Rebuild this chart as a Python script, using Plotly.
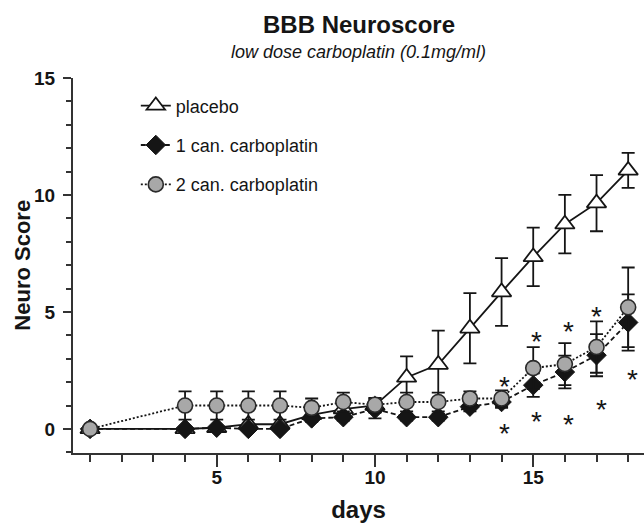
import plotly.graph_objects as go

# ---- data ----
days = [1, 4, 5, 6, 7, 8, 9, 10, 11, 12, 13, 14, 15, 16, 17, 18]

placebo = [0, 0, 0.05, 0.2, 0.2, 0.6, 0.85, 1.0, 2.2, 2.75, 4.3, 5.85, 7.35, 8.75, 9.65, 11.05]
placebo_err = [0, 0, 0, 0, 0, 0.2, 0.2, 0.3, 0.9, 1.45, 1.5, 1.45, 1.25, 1.25, 1.2, 0.75]

can1 = [0, 0, 0.05, 0, 0, 0.45, 0.5, 0.85, 0.5, 0.5, 0.95, 1.15, 1.87, 2.43, 3.15, 4.55]
can1_err = [0, 0, 0, 0, 0, 0.15, 0.15, 0.4, 0.15, 0.15, 0.2, 0.25, 0.5, 0.7, 0.9, 1.2]

can2 = [0, 1.0, 1.0, 1.0, 1.0, 0.9, 1.15, 1.03, 1.15, 1.15, 1.3, 1.3, 2.6, 2.77, 3.5, 5.2]
can2_err = [0, 0.6, 0.6, 0.6, 0.6, 0.4, 0.4, 0.3, 0.4, 0.4, 0.3, 0.35, 0.9, 0.9, 1.1, 1.7]

star_x = [14.1, 14.1, 15.1, 15.1, 16.1, 16.1, 17.0, 17.15, 18.15]
star_y = [2.1, 0.1, 4.05, 0.6, 4.45, 0.5, 5.1, 1.15, 2.43]

x_ticks = [5, 10, 15]
y_ticks = [0, 5, 10, 15]

title_text = "BBB Neuroscore"
subtitle_text = "low dose carboplatin (0.1mg/ml)"
x_title = "days"
y_title = "Neuro Score"
series_names = ["placebo", "1 can. carboplatin", "2 can. carboplatin"]

FONT = "Liberation Sans, Arial, sans-serif"
INK = "#151515"

fig = go.Figure()


def err(vals):
    return dict(type="data", array=vals, visible=True, color=INK,
                thickness=1.8, width=6.5)


fig.add_trace(go.Scatter(
    x=days, y=placebo, name=series_names[0], mode="lines+markers",
    line=dict(color=INK, width=1.8),
    marker=dict(symbol="triangle-up", size=17, color="white",
                line=dict(color=INK, width=1.8)),
    error_y=err(placebo_err), legendgroup="a"))

fig.add_trace(go.Scatter(
    x=days, y=can1, name=series_names[1], mode="lines+markers",
    line=dict(color=INK, width=1.8, dash="5px,3px"),
    marker=dict(symbol="diamond", size=15, color=INK,
                line=dict(color=INK, width=1)),
    error_y=err(can1_err), legendgroup="b"))

fig.add_trace(go.Scatter(
    x=days, y=can2, name=series_names[2], mode="lines+markers",
    line=dict(color=INK, width=1.8, dash="2px,2px"),
    marker=dict(symbol="circle", size=15, color="#a8a8a8",
                line=dict(color="#2a2a2a", width=1.6)),
    error_y=err(can2_err), legendgroup="c"))

annotations = [
    dict(text="<b>" + title_text + "</b>", xref="paper", yref="paper",
         x=0.5, y=1.144, xanchor="center", yanchor="middle", showarrow=False,
         font=dict(family=FONT, size=24, color=INK)),
    dict(text="<i>" + subtitle_text + "</i>", xref="paper", yref="paper",
         x=0.5, y=1.068, xanchor="center", yanchor="middle", showarrow=False,
         font=dict(family=FONT, size=18, color=INK)),
    dict(text="<b>" + y_title + "</b>", xref="paper", yref="paper",
         x=-0.089, y=0.5, xanchor="center", yanchor="middle", textangle=-90,
         showarrow=False, font=dict(family=FONT, size=22, color=INK)),
]
for sx, sy in zip(star_x, star_y):
    annotations.append(dict(text="*", x=sx, y=sy, xref="x", yref="y",
                            showarrow=False, yshift=-7,
                            font=dict(family=FONT, size=28, color=INK)))

fig.update_layout(
    width=644, height=524,
    margin=dict(l=73, r=0, t=78, b=71),
    paper_bgcolor="white", plot_bgcolor="white",
    font=dict(family=FONT, color=INK),
    showlegend=True,
    legend=dict(x=0.11, y=0.975, xanchor="left", yanchor="top",
                bgcolor="rgba(0,0,0,0)", tracegroupgap=13,
                font=dict(family=FONT, size=18, color=INK)),
    annotations=annotations,
    xaxis=dict(range=[0.46, 18.5], tickvals=x_ticks, ticks="outside",
               ticklen=12, tickwidth=2, tickcolor="#333",
               showline=True, linewidth=2, linecolor="#333",
               showgrid=False, zeroline=False,
               tickfont=dict(family=FONT, size=19, weight="bold"),
               ticklabelstandoff=-6,
               minor=dict(dtick=1, tick0=0, ticks="outside", ticklen=7,
                          tickwidth=2, tickcolor="#333", showgrid=False),
               title=dict(text=x_title, standoff=14,
                          font=dict(family=FONT, size=24, weight="bold"))),
    yaxis=dict(range=[-1.03, 15], tickvals=y_ticks, ticks="outside",
               ticklen=8, tickwidth=2, tickcolor="#333",
               showline=True, linewidth=2, linecolor="#333",
               showgrid=False, zeroline=False,
               tickfont=dict(family=FONT, size=19, weight="bold"),
               ticklabelstandoff=4,
               minor=dict(dtick=1, tick0=0, ticks="outside", ticklen=5,
                          tickwidth=2, tickcolor="#333", showgrid=False)),
)

fig.write_html("out.html")
